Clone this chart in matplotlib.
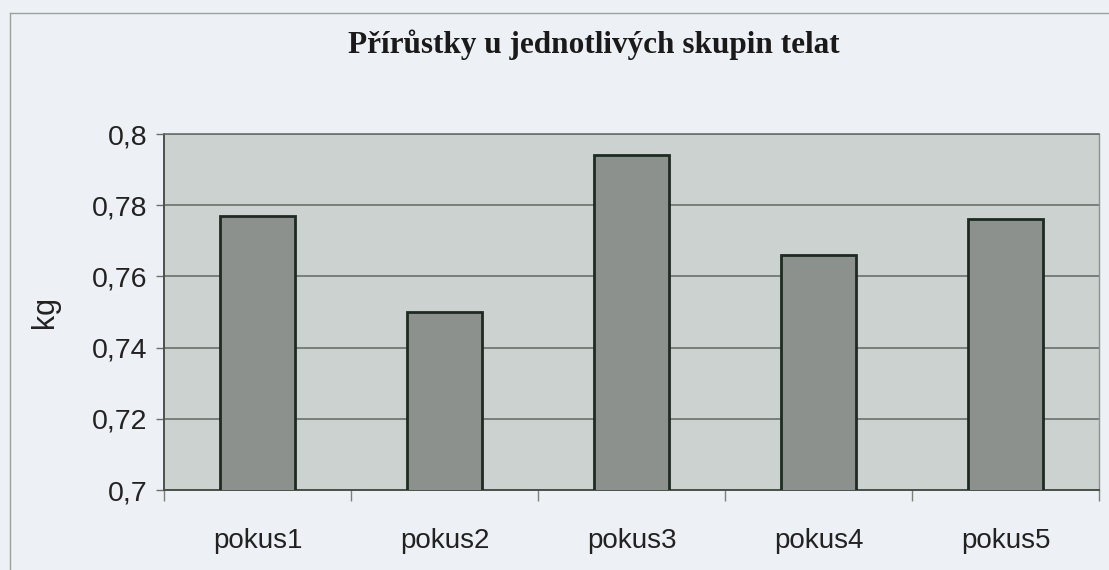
import matplotlib
matplotlib.use("Agg")
import matplotlib.pyplot as plt
from matplotlib.lines import Line2D
from matplotlib.ticker import FuncFormatter, FixedLocator

# data
skupiny = ["pokus1", "pokus2", "pokus3", "pokus4", "pokus5"]
prirustky = [0.777, 0.750, 0.794, 0.766, 0.776]
y_ticks = [0.70, 0.72, 0.74, 0.76, 0.78, 0.80]

page_bg = "#edf1f5"
plot_bg = "#cbd2cf"
bar_fill = "#8c918d"
bar_edge = "#1f2a22"
line_col = "#6a706c"

fig = plt.figure(figsize=(11.09, 5.70), dpi=100)
fig.patch.set_facecolor(page_bg)

ax = fig.add_axes([164 / 1109, 1 - 490 / 570, (1099 - 164) / 1109, (490 - 134) / 570])
ax.set_facecolor(plot_bg)

x = range(len(skupiny))
ax.bar(x, prirustky, width=0.4, color=bar_fill, edgecolor=bar_edge,
       linewidth=2.0, zorder=3)

ax.set_ylim(0.7, 0.8)
ax.set_xlim(-0.5, len(skupiny) - 0.5)
ax.yaxis.set_major_locator(FixedLocator(y_ticks))
ax.yaxis.set_major_formatter(FuncFormatter(lambda v, _: f"{v:g}".replace(".", ",")))
ax.grid(axis="y", color=line_col, linewidth=1.2, zorder=1)

# category labels centred, tick marks at the category borders (Excel style)
ax.set_xticks(list(x))
ax.set_xticklabels(skupiny, fontsize=20, family="Liberation Sans", color="#222222")
ax.tick_params(axis="x", length=0, pad=27)
ax.set_xticks([i + 0.5 for i in range(-1, len(skupiny))], minor=True)
ax.tick_params(axis="x", which="minor", length=8, width=1.0, color="#7a807c", direction="out")

ax.tick_params(axis="y", length=6, width=1.0, color=line_col, labelsize=20.5, pad=6)
for lab in ax.get_yticklabels():
    lab.set_family("Liberation Sans")
    lab.set_color("#222222")

for side in ["left", "bottom"]:
    ax.spines[side].set_color("#4a504c")
    ax.spines[side].set_linewidth(1.4)
ax.spines["top"].set_color(line_col)
ax.spines["top"].set_linewidth(1.2)
ax.spines["right"].set_color("#8c918e")
ax.spines["right"].set_linewidth(1.0)

ax.set_ylabel("kg", fontsize=22, family="Liberation Sans", color="#222222")
ax.yaxis.set_label_coords(-104 / 935, 0.5)

fig.text(594 / 1109, 1 - 45 / 570, "Přírůstky u jednotlivých skupin telat",
         ha="center", va="center", fontsize=22.5, fontweight="bold",
         family="Liberation Serif", color="#1a1a1a")

# outer chart-area border (left and top edges visible in the scan)
fig.add_artist(Line2D([10 / 1109, 10 / 1109], [0, 1 - 13 / 570], transform=fig.transFigure,
                      color="#9aa09c", linewidth=1.0))
fig.add_artist(Line2D([10 / 1109, 1], [1 - 13 / 570, 1 - 13 / 570], transform=fig.transFigure,
                      color="#9aa09c", linewidth=1.0))

fig.savefig("out.png", dpi=100, facecolor=page_bg)
